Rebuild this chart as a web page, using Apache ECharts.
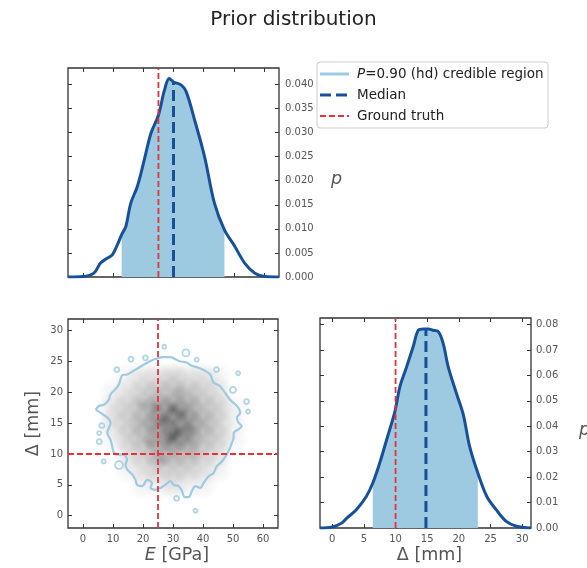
<!DOCTYPE html>
<html>
<head>
<meta charset="utf-8">
<script src="https://cdn.jsdelivr.net/npm/echarts@6/dist/echarts.min.js"></script>
<style>html,body{margin:0;padding:0;background:#fff}#c{width:587px;height:568px}</style>
</head>
<body>
<div id="c"></div>
<script>
// ---------- data ----------
const TITLE = 'Prior distribution';
const E_TICKS = [0, 10, 20, 30, 40, 50, 60];
const D_TICKS = [0, 5, 10, 15, 20, 25, 30];
const P_E_TICKS = [0, 0.005, 0.010, 0.015, 0.020, 0.025, 0.030, 0.035, 0.040];
const P_D_TICKS = [0, 0.01, 0.02, 0.03, 0.04, 0.05, 0.06, 0.07, 0.08];

// marginal density of E
const E_X = [-5, 0, 3.6, 5.8, 8, 9.7, 11.4, 12.8, 14.2, 15.8, 18, 20.3, 22.5, 25, 27, 28.6, 30, 32.5, 34.2, 37, 40.3, 43.6, 46.9, 50.3, 53.6, 57, 60.3, 65];
const E_P = [0, 0.0001, 0.0008, 0.0029, 0.0039, 0.0046, 0.0067, 0.0088, 0.0105, 0.0153, 0.0188, 0.0243, 0.0298, 0.0336, 0.0388, 0.0412, 0.0405, 0.0399, 0.0385, 0.0326, 0.0250, 0.0153, 0.0098, 0.0064, 0.0029, 0.0008, 0.0001, 0];
const E_CRED = [12.8, 46.9];
const E_MEDIAN = 30, E_MEDIAN_P = 0.0405;
const E_TRUTH = 25;

// marginal density of Delta
const D_X = [-1.94, 0, 1.5, 2.3, 3.8, 5.4, 6.4, 7.5, 8.6, 9.9, 10.7, 11.7, 12.8, 13.6, 14.4, 15.2, 15.9, 16.7, 17.5, 18.3, 19.6, 20.7, 21.7, 23.0, 24.4, 25.9, 27.5, 29.1, 31.4];
const D_P = [0, 0.0004, 0.0020, 0.0039, 0.0072, 0.0125, 0.0177, 0.0256, 0.0348, 0.0459, 0.0557, 0.0630, 0.0715, 0.0778, 0.0783, 0.0783, 0.0778, 0.0774, 0.0728, 0.0636, 0.0531, 0.0446, 0.0321, 0.0216, 0.0125, 0.0072, 0.0026, 0.0007, 0];
const D_CRED = [6.4, 23.0];
const D_MEDIAN = 14.8, D_MEDIAN_P = 0.0783;
const D_TRUTH = 10;

// 2-D sample density (darkness 0-9), rows = DENS_D, cols = DENS_E
const DENS_E = [0, 5, 10, 15, 20, 25, 30, 35, 40, 45, 50, 55, 60];
const DENS_D = [30, 27.5, 25, 22.5, 20, 17.5, 15, 12.5, 10, 7.5, 5, 2.5, 0];
const DENS = [
  [0,0,0,0,0,0,0,0,0,0,0,0,0],
  [0,0,0,0,0,0,0,0,0,0,0,0,0],
  [0,0,0,0,0,0,0,0,0,0,0,0,0],
  [0,0,0,1,2,2,3,2,2,1,0,0,0],
  [0,0,1,2,3,4,4,4,3,2,0,0,0],
  [0,0,2,3,4,6,7,6,4,3,1,0,0],
  [0,0,2,3,5,7,8,7,5,3,1,0,0],
  [0,0,1,3,4,6,8,7,4,3,1,0,0],
  [0,0,0,2,3,5,5,4,3,2,0,0,0],
  [0,0,0,1,2,3,3,3,2,1,0,0,0],
  [0,0,0,0,1,1,2,1,1,0,0,0,0],
  [0,0,0,0,0,0,0,0,0,0,0,0,0],
  [0,0,0,0,0,0,0,0,0,0,0,0,0]
];
// darker local patches seen in the sample cloud: [E, Delta, darkness 0-9]
const DARK_SPOTS = [
  [31, 13.4, 7], [30, 17.2, 6], [27, 15.5, 6], [33, 16.5, 5], [29, 12.5, 5],
  [24, 17.5, 4], [20, 18, 3], [35, 14, 4], [22, 12, 3], [32, 20, 3], [26, 9, 3], [37, 10, 2]
];

// 90% credible contour in (E, Delta)
const CONTOUR = [
  [4.2,17.2],[5.3,17.8],[7.0,18.0],[8.6,18.8],[9.2,19.7],[10.8,20.5],[12.0,21.3],[12.5,22.1],[13.1,22.8],
  [14.7,22.9],[16.9,23.5],[18.6,24.0],[20.3,24.5],[22.5,25.1],[24.7,25.5],[26.9,25.7],[29.1,25.7],
  [31.9,25.1],[34.7,24.8],[36.3,24.3],[38.5,24.0],[40.7,23.5],[42.4,22.9],[43.5,21.6],[45.7,21.0],
  [47.4,19.9],[49.0,18.8],[51.3,17.8],[52.4,16.7],[51.3,15.9],[51.8,15.1],[52.9,14.5],[51.8,14.0],
  [50.2,13.4],[50.2,12.6],[49.6,11.8],[49.0,11.0],[47.9,9.9],[46.3,8.8],[44.6,8.0],[43.5,6.9],
  [41.9,6.4],[40.2,5.3],[39.1,4.5],[37.4,4.8],[36.3,4.0],[35.2,3.0],[33.9,3.0],[33.0,4.0],[31.9,4.8],
  [30.2,5.0],[29.1,5.6],[27.4,5.0],[25.8,4.5],[24.1,4.2],[22.5,4.5],[23.0,5.3],[21.4,5.8],[19.7,4.8],
  [18.0,5.0],[17.5,5.8],[16.4,6.7],[14.7,7.5],[14.2,8.3],[14.7,9.1],[13.6,9.9],[12.0,9.9],[10.3,10.2],
  [9.7,11.3],[9.2,12.3],[8.1,13.4],[9.2,15.1],[8.1,15.9],[5.8,16.7],[4.2,17.2]
];
const ISLANDS = [
  [16.0,25.4,5],[20.8,25.6,5],[11.3,23.7,5],[27.1,27.4,4],[34.3,26.4,7],[37.9,25.3,4],[44.5,23.7,5],
  [50.0,20.4,6],[51.7,23.1,4],[54.5,18.5,5],[55.0,16.9,4],[31.2,2.8,5],[37.5,0.8,4],
  [6.3,14.6,5],[5.4,13.4,4],[5.4,12.0,5],[6.9,8.8,4],[12.0,8.2,8]
];

// ---------- styling ----------
const FONT = 'DejaVu Sans';
const DARK = '#17509a', LIGHT = '#9ecae1', RED = '#e8303a', SPINE = '#333', TXT = '#555';
const E_RANGE = [-5, 65], D_RANGE_Y = [-2, 31.9], D_RANGE_X = [-1.94, 31.4];
const PE_MAX = 0.0434, PD_MAX = 0.0826;

const zip = (xs, ys) => xs.map((x, i) => [x, ys[i]]);
const tick = vals => ({show: true, inside: true, length: 4, customValues: vals, lineStyle: {color: SPINE, width: 1}});

function ax(gridIndex, position, range, ticks, labelOpts, extra) {
  return Object.assign({
    type: 'value', gridIndex, position, min: range[0], max: range[1],
    axisLine: {show: false, onZero: false}, splitLine: {show: false},
    axisTick: tick(ticks),
    axisLabel: labelOpts ? Object.assign({show: true, customValues: ticks, color: TXT, fontSize: 10, fontFamily: FONT}, labelOpts) : {show: false}
  }, extra || {});
}
const nameStyle = {color: TXT, fontSize: 17.5, fontFamily: FONT, rich: {i: {fontStyle: 'italic', color: TXT, fontSize: 17.5, fontFamily: FONT}}};
const pStyle = Object.assign({}, nameStyle, {padding: [14, 0, 0, 0]});
const xNameStyle = Object.assign({}, nameStyle, {padding: [0, 0, 0, 8]});

const xAxis = [
  ax(0, 'bottom', E_RANGE, E_TICKS, null),
  ax(0, 'top', E_RANGE, E_TICKS, null),
  ax(1, 'bottom', E_RANGE, E_TICKS, {margin: 6, formatter: v => String(v)},
     {name: '{i|E} [GPa]', nameLocation: 'middle', nameGap: 18, nameTextStyle: xNameStyle}),
  ax(1, 'top', E_RANGE, E_TICKS, null),
  ax(2, 'bottom', D_RANGE_X, D_TICKS, {margin: 6, formatter: v => String(v)},
     {name: 'Δ [mm]', nameLocation: 'middle', nameGap: 18, nameTextStyle: xNameStyle}),
  ax(2, 'top', D_RANGE_X, D_TICKS, null)
];
const yAxis = [
  ax(0, 'right', [0, PE_MAX], P_E_TICKS, {margin: 6, formatter: v => v.toFixed(3)},
     {name: '{i|p}', nameLocation: 'middle', nameRotate: 0, nameGap: 52, nameTextStyle: pStyle}),
  ax(0, 'left', [0, PE_MAX], P_E_TICKS, null),
  ax(1, 'left', D_RANGE_Y, D_TICKS, {margin: 5, formatter: v => String(v)},
     {name: 'Δ [mm]', nameLocation: 'middle', nameGap: 26, nameTextStyle: nameStyle}),
  ax(1, 'right', D_RANGE_Y, D_TICKS, null),
  ax(2, 'right', [0, PD_MAX], P_D_TICKS, {margin: 5, formatter: v => v.toFixed(2)},
     {name: '{i|p}', nameLocation: 'middle', nameRotate: 0, nameGap: 48, nameTextStyle: pStyle}),
  ax(2, 'left', [0, PD_MAX], P_D_TICKS, null)
];

const gridBox = {show: true, borderColor: SPINE, borderWidth: 1.3, backgroundColor: 'transparent',
  containLabel: false, outerBoundsMode: 'none'};
const grid = [
  Object.assign({left: 68, top: 68, width: 211, height: 209}, gridBox),
  Object.assign({left: 68, top: 319, width: 210, height: 209}, gridBox),
  Object.assign({left: 320, top: 318, width: 211, height: 210}, gridBox)
];

function marginalSeries(xi, yi, xs, ps, cred, med, medP, truth, pMax) {
  const pts = zip(xs, ps);
  const fill = pts.filter(p => p[0] >= cred[0] - 1e-9 && p[0] <= cred[1] + 1e-9);
  return [
    {type: 'line', xAxisIndex: xi, yAxisIndex: yi, data: fill, smooth: 0.35, symbol: 'none',
     lineStyle: {width: 0}, areaStyle: {color: LIGHT, opacity: 1}, z: 2, silent: true},
    {type: 'line', xAxisIndex: xi, yAxisIndex: yi, data: pts, smooth: 0.35, symbol: 'none',
     lineStyle: {color: DARK, width: 3}, z: 3, silent: true},
    {type: 'line', xAxisIndex: xi, yAxisIndex: yi, data: [[med, 0], [med, medP]], symbol: 'none',
     lineStyle: {color: DARK, width: 3, type: [11, 5]}, z: 4, silent: true},
    {type: 'line', xAxisIndex: xi, yAxisIndex: yi, data: [[truth, 0], [truth, pMax]], symbol: 'none',
     lineStyle: {color: RED, width: 1.8, type: [6, 3]}, z: 5, silent: true}
  ];
}

const radial = a => ({type: 'radial', x: 0.5, y: 0.5, r: 0.5, colorStops: [
  {offset: 0, color: 'rgba(0,0,0,' + a.toFixed(3) + ')'}, {offset: 1, color: 'rgba(0,0,0,0)'}]});
const cells = [];
DENS.forEach((row, i) => row.forEach((v, j) => {
  if (v > 0) cells.push({value: [DENS_E[j], DENS_D[i]], itemStyle: {color: radial(v / 9 * 0.68)}});
}));
const spots = DARK_SPOTS.map(s => ({value: [s[0], s[1]], itemStyle: {color: radial(s[2] / 9 * 0.45)}}));

const series = [
  ...marginalSeries(0, 0, E_X, E_P, E_CRED, E_MEDIAN, E_MEDIAN_P, E_TRUTH, PE_MAX),
  ...marginalSeries(4, 4, D_X, D_P, D_CRED, D_MEDIAN, D_MEDIAN_P, D_TRUTH, PD_MAX),
  {type: 'scatter', xAxisIndex: 2, yAxisIndex: 2, data: cells, symbol: 'circle', symbolSize: 32, z: 1, silent: true},
  {type: 'scatter', xAxisIndex: 2, yAxisIndex: 2, data: spots, symbol: 'circle', symbolSize: 16, z: 1, silent: true},
  {type: 'line', xAxisIndex: 2, yAxisIndex: 2, data: CONTOUR, smooth: 0.3, symbol: 'none',
   lineStyle: {color: LIGHT, width: 2.2}, z: 3, silent: true},
  {type: 'scatter', xAxisIndex: 2, yAxisIndex: 2, data: ISLANDS.map(d => [d[0], d[1]]),
   symbolSize: (v, p) => ISLANDS[p.dataIndex][2], itemStyle: {color: 'rgba(0,0,0,0)', borderColor: LIGHT, borderWidth: 1.8}, z: 3, silent: true},
  {type: 'line', xAxisIndex: 2, yAxisIndex: 2, data: [[E_TRUTH, D_RANGE_Y[0]], [E_TRUTH, D_RANGE_Y[1]]], symbol: 'none',
   lineStyle: {color: RED, width: 1.8, type: [6, 3]}, z: 5, silent: true},
  {type: 'line', xAxisIndex: 2, yAxisIndex: 2, data: [[E_RANGE[0], D_TRUTH], [E_RANGE[1], D_TRUTH]], symbol: 'none',
   lineStyle: {color: RED, width: 1.8, type: [6, 3]}, z: 5, silent: true}
];

const LEG = [
  {text: '{i|P}=0.90 (hd) credible region', color: LIGHT, width: 3, dash: null},
  {text: 'Median', color: DARK, width: 3, dash: [11, 5]},
  {text: 'Ground truth', color: RED, width: 1.8, dash: [6, 3]}
];
const LEG_FS = 13.5;
const legendEls = [{type: 'rect', shape: {x: 317, y: 62, width: 231, height: 66, r: 3},
  style: {fill: '#fff', stroke: '#cccccc', lineWidth: 1}, z: 10}];
LEG.forEach((l, i) => {
  const y = 74 + i * 21;
  legendEls.push({type: 'line', shape: {x1: 320, y1: y, x2: 349, y2: y},
    style: {stroke: l.color, lineWidth: l.width, lineDash: l.dash || null}, z: 11});
  legendEls.push({type: 'text', x: 357, y: y, z: 11, style: {text: l.text, fill: '#222', fontSize: LEG_FS, fontFamily: FONT,
    verticalAlign: 'middle', rich: {i: {fontStyle: 'italic', fontSize: LEG_FS, fontFamily: FONT, fill: '#222'}}}});
});

const chart = echarts.init(document.getElementById('c'), null, {renderer: 'canvas'});
chart.setOption({
  animation: false,
  backgroundColor: '#fff',
  title: {text: TITLE, left: 'center', top: 5, textStyle: {fontSize: 20, fontWeight: 'normal', color: '#222', fontFamily: FONT}},
  grid, xAxis, yAxis, series,
  graphic: legendEls
});
</script>
</body>
</html>
